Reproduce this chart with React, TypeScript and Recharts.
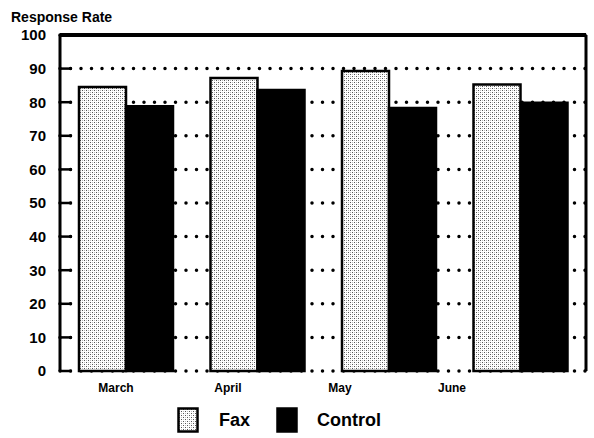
import { BarChart, Bar, XAxis, YAxis, CartesianGrid } from 'recharts';

const months = ['March', 'April', 'May', 'June'];
const fax = [84.5, 87.2, 89.3, 85.3];
const control = [78.8, 83.6, 78.3, 79.8];
const yTicks = [0, 10, 20, 30, 40, 50, 60, 70, 80, 90, 100];

const data = months.map((m, i) => ({ month: m, fax: fax[i], control: control[i] }));

const font = '"Liberation Sans", Arial, sans-serif';

function Swatch({ fill }: { fill: string }) {
  return (
    <svg width={22} height={26} style={{ display: 'block' }}>
      <rect x={1.5} y={1.5} width={19} height={23} fill={fill} stroke="#000" strokeWidth={2.5} />
    </svg>
  );
}

export default function App() {
  return (
    <div style={{ position: 'absolute', left: 0, top: 0, width: 594, height: 438, background: '#fff' }}>
      <div
        style={{
          position: 'absolute', left: 11, top: 9, fontFamily: font, fontWeight: 'bold', fontSize: 14, color: '#000',
        }}
      >
        Response Rate
      </div>
      <BarChart
        width={594}
        height={438}
        data={data}
        margin={{ top: 34, right: 7, left: 0, bottom: 42 }}
        barCategoryGap={19}
        barGap={0}
      >
        <defs>
          <pattern id="stipple" patternUnits="userSpaceOnUse" width={4} height={4}>
            <rect width={4} height={4} fill="#fff" />
            <rect x={0} y={0} width={1} height={1} fill="#555" />
            <rect x={2} y={2} width={1} height={1} fill="#555" />
            <rect x={2} y={0} width={1} height={1} fill="#bbb" />
            <rect x={0} y={2} width={1} height={1} fill="#bbb" />
          </pattern>
        </defs>
        <CartesianGrid
          vertical={false}
          stroke="#000"
          strokeWidth={3.5}
          strokeDasharray="0 10.5"
          strokeLinecap="round"
        />
        <XAxis dataKey="month" tick={false} tickLine={false} height={0} axisLine={{ stroke: '#000', strokeWidth: 3 }} />
        <XAxis
          xAxisId="labels"
          dataKey="month"
          height={25}
          padding={{ left: 0, right: 78 }}
          axisLine={false}
          tickLine={false}
          tickMargin={6}
          tick={{ fontFamily: font, fontWeight: 'bold', fontSize: 12, fill: '#000' }}
        />
        <XAxis
          xAxisId="top"
          orientation="top"
          dataKey="month"
          height={1}
          tick={false}
          tickLine={false}
          axisLine={{ stroke: '#000', strokeWidth: 4 }}
        />
        <YAxis
          domain={[0, 100]}
          ticks={yTicks}
          width={60}
          tickSize={-12}
          tickMargin={26}
          tickLine={{ stroke: '#000', strokeWidth: 2.5 }}
          axisLine={{ stroke: '#000', strokeWidth: 3 }}
          tick={{ fontFamily: font, fontWeight: 'bold', fontSize: 15, fill: '#000' }}
        />
        <YAxis
          yAxisId="right"
          orientation="right"
          domain={[0, 100]}
          width={1}
          tick={false}
          tickLine={false}
          axisLine={{ stroke: '#000', strokeWidth: 3 }}
        />
        <Bar dataKey="fax" name="Fax" fill="url(#stipple)" stroke="#000" strokeWidth={2.5} isAnimationActive={false} />
        <Bar dataKey="control" name="Control" fill="#000" stroke="#000" strokeWidth={2.5} isAnimationActive={false} />
      </BarChart>
      <div
        style={{
          position: 'absolute', left: 177, top: 407, display: 'flex', alignItems: 'center',
          fontFamily: font, fontWeight: 'bold', fontSize: 18, color: '#000',
        }}
      >
        <Swatch fill="url(#stipple)" />
        <span style={{ marginLeft: 20, marginRight: 26 }}>Fax</span>
        <Swatch fill="#000" />
        <span style={{ marginLeft: 19 }}>Control</span>
      </div>
    </div>
  );
}
